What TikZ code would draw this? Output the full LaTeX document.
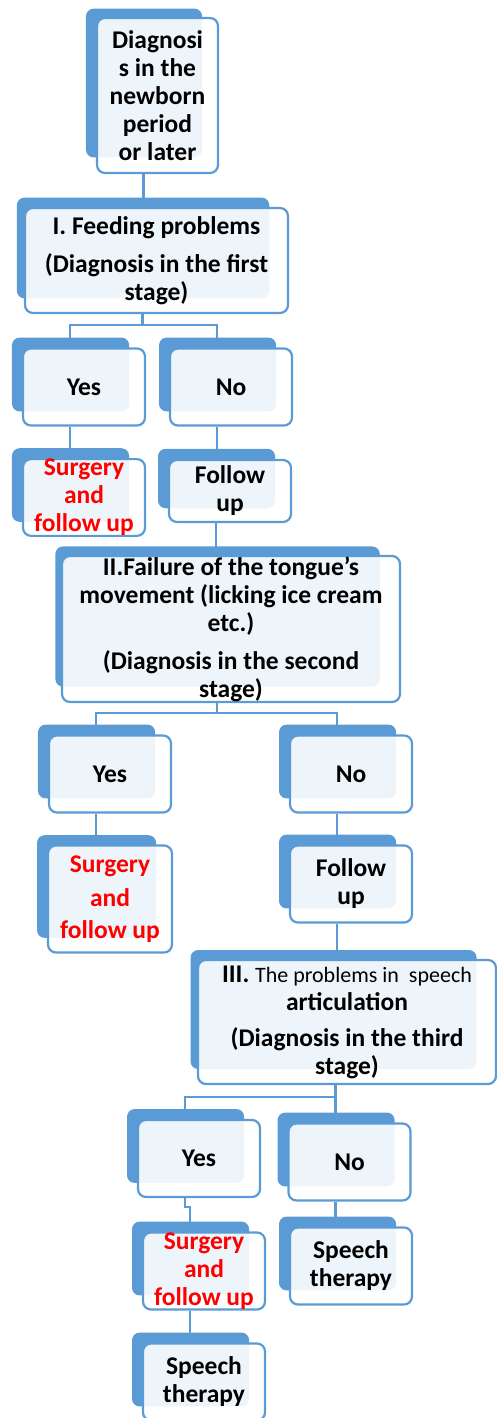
\documentclass[tikz,border=0pt]{standalone}
\usepackage{fontspec}
\setmainfont{Carlito}
\usetikzlibrary{shadows}

\definecolor{boxblue}{RGB}{91,155,213}
\definecolor{surgred}{RGB}{255,0,0}

\begin{document}
\begin{tikzpicture}[x=1pt, y=-1pt,
  every box/.style={draw=boxblue, line width=2.2pt, rounded corners=8pt,
    fill=white, fill opacity=0.9, text opacity=1, inner sep=0pt,
    align=center, font=\fontsize{25.5}{28}\selectfont\bfseries,
    general shadow={fill=boxblue, fill opacity=1, shadow xshift=-14pt,
      shadow yshift=13pt, shadow scale=0.96}},
  answer/.style={minimum width=122pt, minimum height=77pt},
  surgery/.style={text=surgred},
  link/.style={draw=boxblue, line width=2.4pt}]
\useasboundingbox (0,0) rectangle (497,1418);

% stages
\node [every box, minimum width=121pt, minimum height=155pt] (diag) at (157.5,95.5)
  {Diagnosi\\s in the\\newborn\\period\\or later};
\node [every box, minimum width=263pt, minimum height=105pt] (feed) at (156.5,260.5)
  {I. Feeding problems\\[10pt](Diagnosis in the first\\stage)};
\node [every box, minimum width=338pt, minimum height=146pt] (fail) at (231,629)
  {II.Failure of the tongue's\\movement (licking ice cream\\etc.)\\[10pt](Diagnosis in the second\\stage)};
\node [every box, minimum width=298pt, minimum height=124pt] (third) at (347,1022)
  {III. {\fontsize{22}{28}\selectfont\mdseries The problems in\ \ speech}\\articulation\\[8pt](Diagnosis in the third\\stage)};

% answers
\foreach \n/\x/\y/\t in {yes1/84/387/Yes, no1/231/387/No,
    yes2/110/774/Yes, no2/351/774/No,
    yes3/199/1158.5/Yes, no3/349.5/1162/No}
  \node [every box, answer] (\n) at (\x,\y) {\t};

% outcomes
\node [every box, answer, surgery, minimum height=75pt] (surg1) at (84,497.5)
  {Surgery\\and\\follow up};
\node [every box, answer, minimum height=62pt] (fol1) at (230,491) {Follow\\up};
\node [every box, answer, surgery, minimum width=124pt, minimum height=107pt] (surg2) at (110,899)
  {Surgery\\[6pt]and\\[4pt]follow up};
\node [every box, answer] (fol2) at (351,884) {Follow\\up};
\node [every box, answer, surgery] (surg3) at (204,1271) {Surgery\\and\\follow up};
\node [every box, answer] (speech1) at (351,1266) {Speech\\therapy};
\node [every box, answer] (speech2) at (204,1382) {Speech\\therapy};

% links
\draw [link] ([xshift=-14pt]diag.south) -- ([xshift=-14pt]diag.south |- feed.north);
\draw [link] ([xshift=-14pt]feed.south) -- ++(0,-11pt) coordinate (feed-split);
\draw [link] (feed-split) -| ([xshift=-14pt]yes1.north);
\draw [link] (feed-split) -| ([xshift=-14pt]no1.north);
\draw [link] ([xshift=-14pt]yes1.south) -- ([xshift=-14pt]surg1.north);
\draw [link] ([xshift=-14pt]no1.south) -- ([xshift=-14pt]no1.south |- fol1.north);
\draw [link] ([xshift=-14pt]fol1.south) -- ([xshift=-14pt]fol1.south |- fail.north);

\draw [link] ([xshift=-14pt]fail.south) -- ++(0,-10pt) coordinate (fail-split);
\draw [link] (fail-split) -| ([xshift=-14pt]yes2.north);
\draw [link] (fail-split) -| ([xshift=-14pt]no2.north);
\draw [link] ([xshift=-14pt]yes2.south) -- ([xshift=-14pt]surg2.north);
\draw [link] ([xshift=-14pt]no2.south) -- ([xshift=-14pt]fol2.north);
\draw [link] ([xshift=-14pt]fol2.south) -- ([xshift=-14pt]fol2.south |- third.north);

\draw [link] ([xshift=-14pt]no3.north |- third.south) -- ++(0,-12pt) coordinate (third-split);
\draw [link] (third-split) -| ([xshift=-14pt]yes3.north);
\draw [link] (third-split) -- ([xshift=-14pt]no3.north);
\draw [link] ([xshift=-14pt]yes3.south) -- ++(0,-9pt) -| ([xshift=-14pt]surg3.north);
\draw [link] ([xshift=-14pt]no3.south) -- ([xshift=-14pt]no3.south |- speech1.north);
\draw [link] ([xshift=-14pt]surg3.south) -- ([xshift=-14pt]speech2.north);
\end{tikzpicture}
\end{document}
